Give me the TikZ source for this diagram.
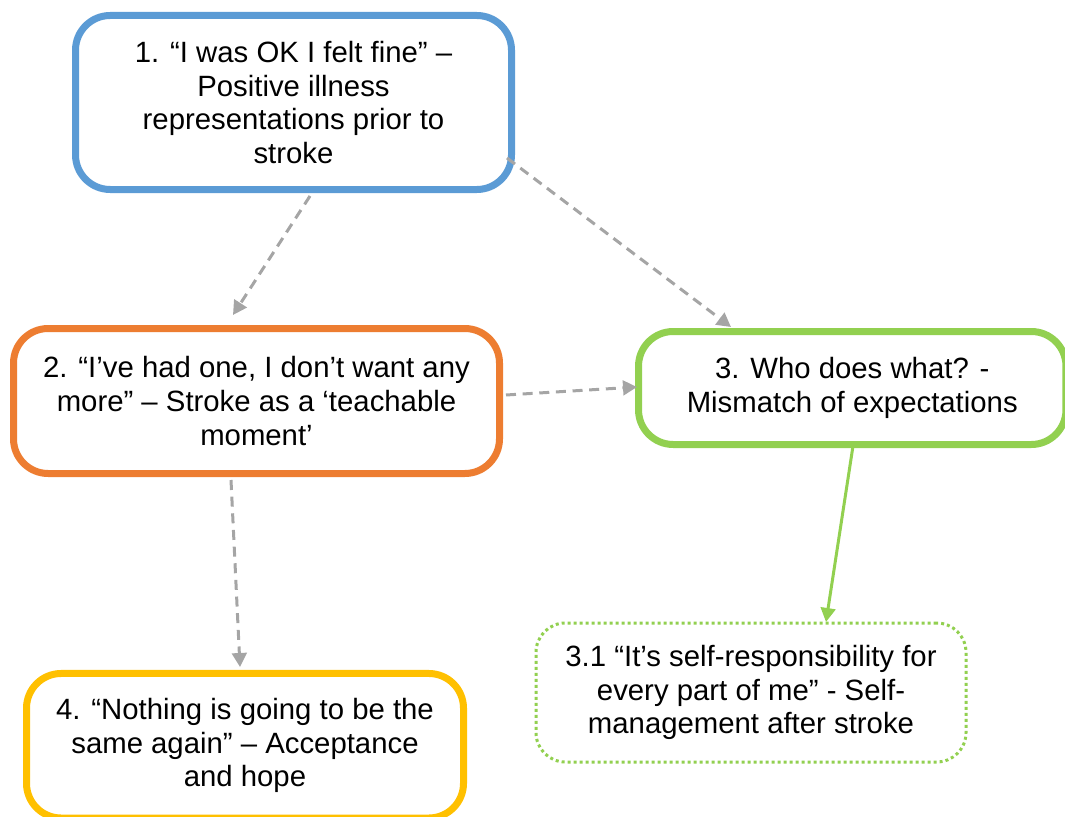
\documentclass[tikz,border=0pt]{standalone}
\usepackage{fontspec}
\setmainfont{Liberation Sans}
\usetikzlibrary{arrows.meta}
\definecolor{cblue}{HTML}{5B9BD5}
\definecolor{corange}{HTML}{ED7D31}
\definecolor{cgreen}{HTML}{92D050}
\definecolor{cyellow}{HTML}{FFC000}
\definecolor{cgray}{HTML}{A5A5A5}
\tikzset{
  theme/.style={draw=#1, line width=5.25pt, rounded corners=26pt, fill=white,
    align=center, inner sep=0pt, font=\fontsize{22pt}{25.2pt}\selectfont},
  subtheme/.style={draw=cgreen, line width=2.25pt, dash pattern=on 2.25pt off 2.25pt,
    rounded corners=22pt, fill=white, align=center, inner sep=0pt,
    font=\fontsize{22pt}{25.2pt}\selectfont},
  link/.style={draw=cgray, line width=2.25pt, dash pattern=on 7.5pt off 5pt,
    -{Triangle[length=10.5pt,width=11pt]}},
  solidlink/.style={draw=cgreen, line width=2.25pt,
    -{Triangle[length=10.5pt,width=11pt]}}
}
\begin{document}
\begin{tikzpicture}[x=0.75pt,y=-0.75pt]
\useasboundingbox (0,0) rectangle (1065,817);
\node[theme=cblue, minimum width=327pt, minimum height=130.5pt] (t1) at (293.5,102.5)
  {1. “I was OK I felt fine” –\\Positive illness\\representations prior to\\stroke};
\node[theme=corange, minimum width=364.5pt, minimum height=108.75pt] (t2) at (256.5,401)
  {2. “I’ve had one, I don’t want any\\more” – Stroke as a ‘teachable\\moment’};
\node[theme=cgreen, minimum width=320.6pt, minimum height=84.75pt] (t3) at (852.25,388)
  {3. Who does what? -\\Mismatch of expectations};
\node[theme=cyellow, minimum width=327.75pt, minimum height=108.4pt] (t4) at (245,745.75)
  {4. “Nothing is going to be the\\same again” – Acceptance\\and hope};
\node[subtheme, minimum width=322.5pt, minimum height=104.25pt] (t31) at (751,692.5)
  {3.1 “It’s self-responsibility for\\every part of me” - Self-\\management after stroke};
\coordinate (a1s) at (310,196);
\coordinate (a1e) at (233,315);
\coordinate (a2s) at (507,158);
\coordinate (a2e) at (731,327);
\coordinate (a3s) at (506,395);
\coordinate (a3e) at (637,387);
\coordinate (a4s) at (231,480);
\coordinate (a4e) at (240,667);
\coordinate (a5s) at (853,446);
\coordinate (a5e) at (826,622);
\draw[link] (a1s) -- (a1e);
\draw[link] (a2s) -- (a2e);
\draw[link] (a3s) -- (a3e);
\draw[link] (a4s) -- (a4e);
\draw[solidlink] (a5s) -- (a5e);
\end{tikzpicture}
\end{document}
